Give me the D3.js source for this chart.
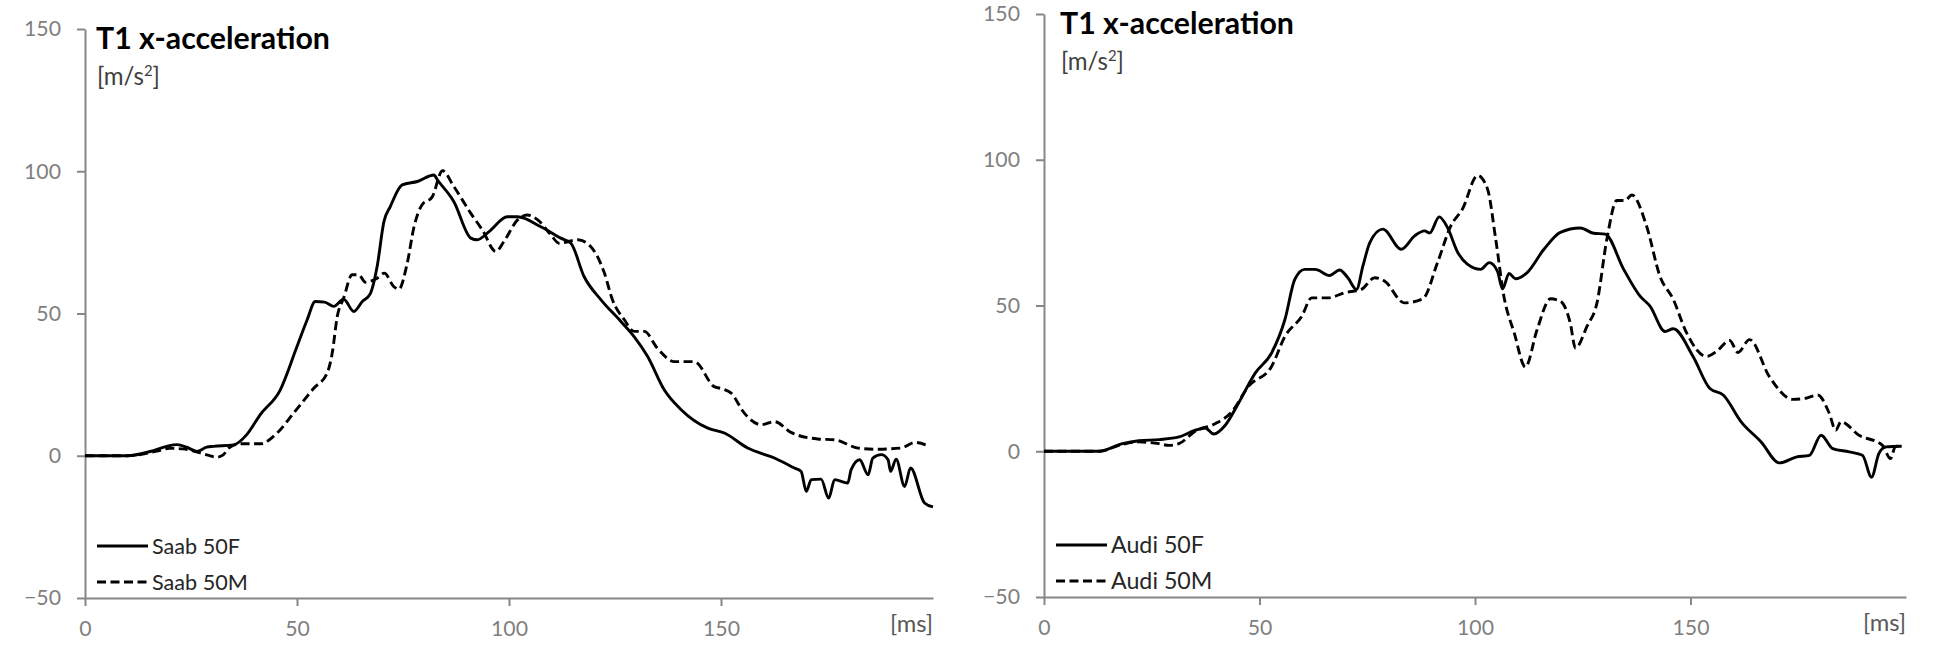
<!DOCTYPE html>
<html lang="en">
<head>
    <meta charset="UTF-8">
    <title>T1 x-acceleration</title>
    <style>
        body {
            margin: 0;
            background: #fff;
        }
        svg {
            display: block;
            font-family: Lato, "Open Sans", sans-serif;
        }
        .axis path, .axis line {
            stroke: #878787;
            stroke-width: 2;
        }
        .axis text {
            fill: #7f7f7f;
            font-family: Lato, "Open Sans", sans-serif;
        }
        .trace {
            fill: none;
            stroke: #000;
            stroke-width: 2.9;
            stroke-linejoin: round;
        }
        .dashed {
            stroke-dasharray: 9 4.5;
        }
        .title {
            font-weight: bold;
            fill: #000;
        }
        .unit {
            fill: #404040;
        }
        .ms {
            fill: #595959;
        }
        .legend text {
            fill: #262626;
        }
    </style>
</head>
<body>
    <svg id="chart" width="1933" height="649"></svg>

    <script src="https://cdnjs.cloudflare.com/ajax/libs/d3/7.8.5/d3.min.js"></script>
    <script>
        // [ms, m/s^2]
        const saab50F = [
            [0, 0], [10, 0], [15.4, 1.5], [19.3, 3.3], [21.7, 3.9], [24, 3], [26.4, 1.5], [28.7, 3],
            [30.3, 3.3], [35, 3.8], [38.2, 7.5], [41.3, 14.4], [46, 23], [50, 38.4], [52.4, 47.8],
            [54.3, 54.2], [56.5, 54], [58.7, 52.5], [61, 55], [63.4, 50.7], [65.4, 54.2], [67.3, 57],
            [68.9, 66.5], [70.5, 82.3], [72, 87.6], [74.8, 95.2], [78.4, 96.4], [82.3, 98.7], [83.1, 97],
            [87, 89.3], [91, 76.5], [92.5, 75.9], [95.3, 78.8], [99.6, 84], [102, 84], [107.5, 80.5],
            [112.2, 76.5], [114.6, 74.7], [117.7, 63], [121.7, 54.8], [126.4, 47.2], [129.5, 41.9],
            [132.7, 34.9], [136.6, 23.2], [140.6, 16.2], [146.9, 9.7], [150.8, 8], [156.3, 2.7],
            [162.6, -0.8], [167.3, -4.3], [168.9, -5.5], [170.1, -12.5], [171.3, -8.4], [173.6, -8.2],
            [175.4, -14.9], [176.8, -8.4], [179.9, -9.6], [180.7, -4.9], [182.7, -1.4], [184.7, -6.7],
            [185.8, -0.8], [187.8, 0.4], [189.4, -1.4], [190, -5.5], [191.3, -1.2], [193.3, -10.8],
            [194.7, -4.3], [198, -16.6], [200, -18]
        ];

        const saab50M = [
            [0, 0], [10, 0], [16.9, 1.6], [20, 2.6], [23, 2.4], [27.2, 1], [29, 0.2], [31.1, -0.5],
            [32.6, 0.3], [33.9, 2.7], [36.6, 4.2], [41.3, 4.2], [45.3, 8], [49.2, 15], [54, 23.8],
            [57.1, 29], [58.3, 36], [59.5, 49], [61, 55.4], [63, 63.6], [64.6, 63.6], [66.1, 61],
            [68.9, 62.4], [70.6, 64.2], [72.8, 59.5], [74, 58.5], [76, 67.7], [77.6, 80.5], [79.5, 88.2],
            [81.9, 91], [84.3, 100.2], [87, 94.6], [91, 85.2], [93.7, 79.4], [96.9, 71.8], [98.8, 75.3],
            [102, 82.9], [104.3, 84.6], [106.7, 83], [109.9, 77.6], [111.8, 74.7], [116.2, 75.9],
            [119.3, 73.5], [122.5, 64.2], [124.4, 54.8], [127.2, 47.8], [129.5, 43.7], [131.9, 43.7],
            [135, 37.8], [139, 33.1], [143.7, 33.1], [148.4, 24.3], [150.4, 23.5], [152.4, 22],
            [155.5, 15], [159.5, 10.9], [162.6, 12], [166.5, 8.2], [172.8, 5.9], [176.8, 5.6],
            [182.3, 2.7], [186.2, 2.3], [192.5, 2.7], [195.7, 4.7], [199.2, 3.3]
        ];

        const audi50F = [
            [0, 0], [12.8, 0], [18.2, 2.6], [22, 3.6], [26.7, 4], [31.3, 4.9], [35.1, 7.2], [37.4, 8],
            [39.4, 5.9], [42.1, 9], [45.1, 16.4], [49, 26.8], [52.8, 33.7], [55.9, 45.2], [58.2, 59],
            [60.5, 62.4], [62.9, 62.4], [66.3, 60.3], [68.6, 62.2], [70.5, 59.5], [72.5, 55.5], [74, 63.6],
            [75.6, 71.6], [78.6, 76.2], [82.9, 69.3], [86, 73.9], [88.3, 75.6], [89.5, 74.9], [91.7, 80.4],
            [93.6, 76.8], [96, 68.2], [98.3, 64.1], [101.3, 62.4], [103.3, 64.7], [105.2, 61.8],
            [106.4, 55.7], [107.9, 61], [109.4, 59.2], [112.1, 61.3], [116, 69.3], [119.8, 75.1],
            [124.4, 76.6], [127.5, 74.8], [130.2, 74.5], [134.5, 62.4], [138.3, 53.2], [140.6, 49.8],
            [144.1, 41.1], [146, 42], [150.6, 32.5], [154.5, 21.5], [157.6, 19.3], [161.8, 10],
            [166.4, 3.2], [170.6, -4], [174.5, -2], [177.6, -1.4], [180.3, 5.5], [183, 0.9],
            [186.8, -0.2], [189.9, -1.4], [192, -8.9], [193.7, -0.8], [195.3, 1.5], [199, 1.7]
        ];

        const audi50M = [
            [0, 0], [12.8, 0], [18.2, 2.4], [22, 3.2], [26.7, 2.6], [29, 2], [31.3, 2.6], [35.1, 6.9],
            [39.8, 9.5], [43.6, 13.6], [47.4, 22.2], [52.8, 29.1], [55.9, 39.4], [59.8, 46.3],
            [62.1, 52.6], [65.9, 52.6], [69.8, 54.4], [73.6, 55.5], [76.7, 59.5], [79, 58.4],
            [83.6, 50.9], [87.9, 52.3], [91.3, 64.7], [94.4, 77.3], [97.1, 83.1], [100.6, 94.6],
            [102.9, 90], [104.8, 72.8], [106.7, 53.2], [109.1, 40.6], [111.7, 28.9], [114.4, 41.7],
            [117.5, 52.3], [119.8, 51.5], [122.1, 44], [123.3, 35.4], [126, 42.9], [128.3, 50.9],
            [130.6, 72.8], [132.9, 86], [134.8, 86], [136.4, 87.9], [139.8, 77.3], [142.9, 60.1],
            [146, 52.1], [149.1, 40.6], [153.7, 32.5], [156, 34.2], [159.1, 38], [161, 33.9],
            [163.7, 38.3], [168.3, 25.6], [173.7, 17.8], [176.8, 18.2], [179.5, 19.3], [182.2, 13],
            [183.7, 7.2], [184.9, 10.1], [189.1, 5.5], [194.5, 2.1], [196.4, -2.5], [197.5, 1.5],
            [199.1, 2.1]
        ];

        const xTicks = [0, 50, 100, 150];
        const yTicks = [-50, 0, 50, 100, 150];
        const xDomain = [0, 200];
        const yDomain = [-50, 150];

        // layout of the two side-by-side panels
        const panels = [
            {
                series: [
                    { name: 'Saab 50F', data: saab50F, dashed: false },
                    { name: 'Saab 50M', data: saab50M, dashed: true }
                ],
                left: 85, right: 933, top: 29, bottom: 598, titleDx: 11, legendW: 88
            },
            {
                series: [
                    { name: 'Audi 50F', data: audi50F, dashed: false },
                    { name: 'Audi 50M', data: audi50M, dashed: true }
                ],
                left: 1044, right: 1906, top: 14, bottom: 597, titleDx: 16, legendW: 93
            }
        ];

        // pick a font size so a text spans roughly the width it has in the reference
        function fitSize(sel, width, start) {
            sel.style('font-size', start + 'px');
            const w = sel.node().getComputedTextLength();
            const size = w > 0 ? start * width / w : start;
            sel.style('font-size', size + 'px');
            return size;
        }

        const svg = d3.select('#chart');

        panels.forEach(p => {
            const g = svg.append('g');

            const x = d3.scaleLinear().domain(xDomain).range([p.left, p.right]);
            const y = d3.scaleLinear().domain(yDomain).range([p.bottom, p.top]);

            const yAxis = g.append('g')
                .attr('class', 'axis')
                .attr('transform', `translate(${p.left},0)`)
                .call(d3.axisLeft(y).tickValues(yTicks).tickSize(8).tickSizeOuter(0).tickPadding(16));

            const xAxis = g.append('g')
                .attr('class', 'axis')
                .attr('transform', `translate(0,${p.bottom})`)
                .call(d3.axisBottom(x).tickValues(xTicks).tickSize(8).tickSizeOuter(0).tickPadding(15));

            // tick label size taken from the width of "150"
            const top = yAxis.selectAll('.tick text').filter(d => d === 150);
            const tickSize = fitSize(top, 37, 22);
            yAxis.selectAll('.tick text').style('font-size', tickSize + 'px');
            xAxis.selectAll('.tick text').style('font-size', tickSize + 'px');

            const line = d3.line()
                .x(d => x(d[0]))
                .y(d => y(d[1]))
                .curve(d3.curveMonotoneX);

            g.selectAll('.trace')
                .data(p.series)
                .enter()
                .append('path')
                .attr('class', d => d.dashed ? 'trace dashed' : 'trace')
                .attr('d', d => line(d.data));

            // title and unit
            const title = g.append('text')
                .attr('class', 'title')
                .attr('x', p.left + p.titleDx)
                .attr('y', p.top + 20)
                .text('T1 x-acceleration');
            fitSize(title, 234, 28);

            const unit = g.append('text')
                .attr('class', 'unit')
                .attr('x', p.left + p.titleDx + 1)
                .attr('y', p.top + 56);
            unit.append('tspan').text('[m/s');
            unit.append('tspan').attr('dy', -9).style('font-size', '0.62em').text('2');
            unit.append('tspan').attr('dy', 9).text(']');
            fitSize(unit, 63, 22);

            const ms = g.append('text')
                .attr('class', 'ms')
                .attr('x', p.right)
                .attr('y', p.bottom + 34)
                .attr('text-anchor', 'end')
                .text('[ms]');
            fitSize(ms, 43, 22);

            // legend
            const legend = g.append('g').attr('class', 'legend');
            let legendSize = null;
            p.series.forEach((s, i) => {
                const ly = p.bottom - 52 + i * 36;
                legend.append('line')
                    .attr('class', s.dashed ? 'trace dashed' : 'trace')
                    .attr('x1', p.left + 12)
                    .attr('x2', p.left + 63)
                    .attr('y1', ly)
                    .attr('y2', ly);
                const t = legend.append('text')
                    .attr('x', p.left + 67)
                    .attr('y', ly + 8)
                    .text(s.name);
                if (legendSize === null) {
                    legendSize = fitSize(t, p.legendW, 22);
                } else {
                    t.style('font-size', legendSize + 'px');
                }
            });
        });
    </script>
</body>
</html>
